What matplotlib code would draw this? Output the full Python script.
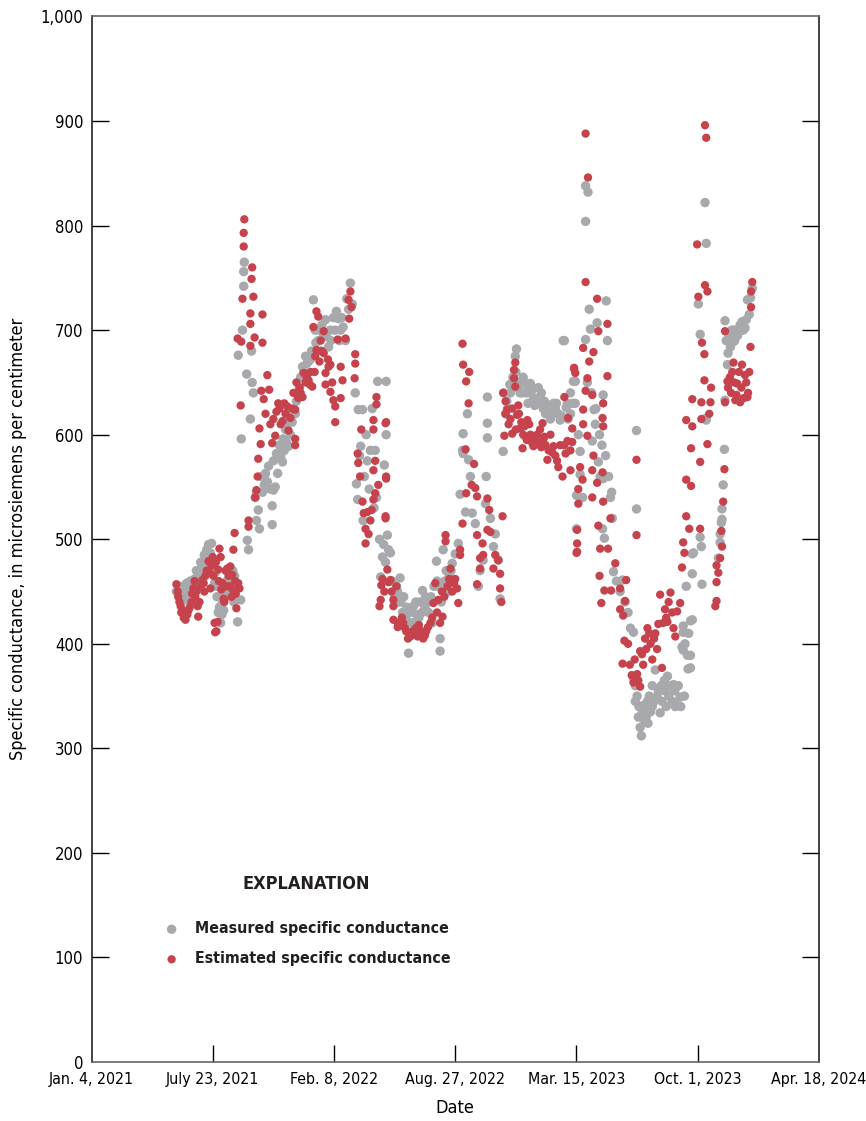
import matplotlib
matplotlib.use("Agg")
import matplotlib.pyplot as plt
from matplotlib.ticker import FuncFormatter
import pandas as pd

plt.rcParams['font.family'] = ['DejaVu Sans']
plt.rcParams['font.stretch'] = 'condensed'

START = "2021-01-04"

# (days since Jan. 4, 2021, specific conductance)
measured = [
    (140, 450), (143, 455), (147, 440), (150, 445), (153, 452), (157, 458), (160, 448), (163, 460),
    (167, 455), (170, 462), (173, 470), (176, 465), (180, 478), (183, 472), (186, 485), (190, 490),
    (193, 495), (196, 487), (198, 496), (201, 480), (204, 468), (206, 455), (209, 430), (213, 420),
    (216, 440), (219, 450), (223, 460), (226, 470), (229, 448), (232, 455), (236, 465), (239, 442),
    (241, 421), (242, 676), (246, 442), (247, 596), (249, 700), (251, 742), (251, 756), (252, 765),
    (256, 658), (257, 499), (259, 490), (262, 615), (264, 680), (265, 650), (267, 640),
    (270, 540), (272, 518), (275, 528), (277, 510), (282, 545), (287, 563), (290, 555), (295, 548),
    (298, 532), (298, 514), (300, 547), (303, 550), (307, 563), (312, 579), (315, 574), (318, 585),
    (322, 592), (325, 589), (328, 600), (331, 612), (336, 620), (340, 640), (345, 655), (348, 665),
    (353, 675), (358, 670), (361, 672), (366, 729), (369, 700), (374, 690), (378, 680), (383, 695),
    (387, 694), (391, 684), (394, 700), (399, 712), (404, 718), (407, 711), (411, 700), (415, 703),
    (419, 690), (424, 720), (427, 745), (430, 725), (435, 640), (437, 553), (439, 538), (440, 624),
    (444, 589), (447, 624), (448, 518), (453, 600), (460, 585), (463, 625), (468, 585), (472, 651),
    (477, 464), (480, 483), (483, 571), (486, 651), (486, 600), (488, 504), (490, 490), (493, 487),
    (496, 460), (500, 445), (503, 455), (506, 440), (509, 463), (513, 430), (518, 425), (523, 391),
    (526, 420), (531, 436), (536, 428), (542, 440), (546, 451), (551, 445), (556, 430), (562, 420),
    (569, 479), (572, 455), (575, 405), (575, 393), (580, 490), (585, 470), (590, 465), (595, 477),
    (600, 486), (605, 496), (608, 543), (612, 585), (613, 601), (613, 582), (617, 526), (620, 620),
    (622, 576), (625, 560), (628, 525), (633, 515), (638, 455), (641, 470), (646, 480), (650, 534),
    (651, 560), (653, 636), (653, 611), (653, 597), (658, 520), (663, 493), (666, 505), (671, 480),
    (674, 443), (679, 584), (683, 620), (686, 625), (691, 640), (696, 645), (699, 675), (701, 682),
    (704, 650), (707, 640), (712, 655), (717, 640), (721, 645), (724, 649), (729, 635), (734, 630),
    (740, 636), (745, 625), (749, 620), (752, 624), (757, 615), (762, 630), (767, 630), (773, 614),
    (778, 690), (780, 690), (783, 626), (786, 615), (790, 620), (795, 651), (798, 651), (798, 630),
    (800, 510), (800, 542), (803, 600), (806, 584), (806, 562), (810, 540), (815, 838), (815, 804),
    (815, 691), (819, 832), (821, 720), (823, 701), (826, 594), (829, 624), (831, 610), (834, 707),
    (836, 574), (839, 560), (843, 510), (844, 638), (846, 501), (844, 558), (849, 728), (851, 690),
    (856, 540), (859, 520), (861, 469), (866, 460), (872, 450), (876, 461), (880, 440), (885, 430),
    (889, 415), (894, 411), (894, 367), (897, 345), (899, 604), (899, 529), (902, 330), (905, 320),
    (907, 312), (910, 341), (913, 325), (918, 324), (922, 335), (925, 340), (930, 375), (933, 350),
    (938, 334), (941, 345), (946, 355), (950, 369), (955, 360), (960, 361), (963, 340), (966, 341),
    (971, 349), (974, 397), (976, 417), (976, 411), (976, 394), (978, 350), (981, 455), (983, 389),
    (984, 376), (988, 389), (988, 377), (988, 422), (991, 423), (991, 467), (991, 486), (993, 487),
    (1004, 502), (1004, 696), (1006, 493), (1007, 457), (1001, 725), (1012, 822), (1014, 783),
    (1014, 614), (1014, 616), (1034, 482), (1037, 497), (1037, 505), (1039, 516), (1040, 529),
    (1040, 519), (1042, 552), (1044, 586), (1045, 633), (1045, 709), (1049, 667), (1050, 678),
    (1054, 684), (1059, 689), (1059, 700), (1063, 700), (1070, 705), (1073, 708), (1078, 702),
    (1082, 729), (1087, 731), (1090, 740),
    # denser parts of the measured band
    (145, 448), (150, 455), (155, 442), (160, 458), (165, 450), (170, 455), (175, 460), (178, 470),
    (182, 462), (185, 475), (188, 480), (192, 470), (195, 478), (200, 470), (203, 458), (207, 445),
    (211, 435), (215, 428), (218, 432), (222, 445), (225, 452), (228, 462), (233, 470), (235, 440),
    (238, 455), (272, 545), (280, 560), (285, 552), (292, 570), (300, 575), (305, 582), (310, 590),
    (316, 596), (320, 605), (326, 612), (333, 622), (338, 632), (343, 645), (350, 660), (355, 668),
    (363, 680), (370, 688), (376, 700), (380, 705), (386, 710), (395, 690), (402, 700), (409, 690),
    (413, 712), (421, 730), (442, 580), (450, 560), (455, 575), (458, 548), (466, 530), (470, 540),
    (475, 500), (482, 495), (485, 478), (505, 450), (510, 440), (515, 445), (520, 435), (525, 430),
    (530, 420), (535, 440), (540, 425), (545, 430), (550, 435), (555, 440), (560, 445), (565, 455),
    (570, 460), (577, 440), (583, 460), (588, 450), (593, 470), (680, 640), (685, 632), (690, 648),
    (695, 655), (700, 660), (705, 645), (710, 640), (715, 650), (720, 630), (726, 642), (731, 628),
    (737, 645), (742, 640), (747, 632), (755, 628), (760, 620), (765, 625), (770, 620), (775, 618),
    (785, 630), (790, 640), (794, 630), (818, 650), (825, 640), (832, 625), (838, 600), (842, 590),
    (848, 580), (853, 560), (858, 545), (897, 360), (900, 350), (903, 340), (906, 330), (909, 335),
    (912, 340), (915, 330), (917, 345), (920, 350), (925, 360), (928, 345), (935, 355), (940, 360),
    (945, 365), (948, 340), (952, 350), (958, 345), (962, 355), (968, 360), (972, 340), (979, 400),
    (985, 410), (1047, 690), (1052, 695), (1056, 700), (1061, 690), (1066, 695), (1068, 700),
    (1075, 700), (1080, 710), (1085, 715),
]

estimated = [
    (140, 457), (142, 450), (143, 445), (145, 440), (147, 436), (148, 430), (152, 425), (155, 423),
    (158, 428), (162, 435), (165, 440), (168, 453), (171, 445), (175, 436), (176, 426), (180, 455),
    (183, 461), (186, 450), (190, 470), (193, 479), (196, 453), (200, 483), (201, 465), (203, 420),
    (204, 411), (206, 412), (208, 421), (209, 471), (211, 491), (213, 483), (216, 458), (218, 443),
    (221, 470), (224, 472), (228, 455), (229, 474), (231, 445), (232, 466), (234, 490), (236, 506),
    (237, 460), (239, 434), (241, 692), (242, 458), (244, 453), (246, 628), (247, 689), (249, 730),
    (251, 780), (251, 793), (252, 806), (259, 518), (259, 512), (262, 706), (262, 716), (262, 685),
    (264, 749), (265, 760), (267, 732), (269, 693), (270, 540), (272, 547), (274, 560), (275, 577),
    (277, 606), (279, 591), (280, 642), (282, 688), (282, 715), (284, 634), (290, 657), (293, 643),
    (298, 592), (303, 599), (308, 630), (312, 610), (315, 613), (320, 620), (323, 627), (325, 604),
    (328, 616), (331, 625), (336, 624), (336, 596), (336, 590), (341, 635), (345, 640), (348, 636),
    (350, 659), (353, 650), (358, 652), (361, 660), (364, 646), (366, 703), (369, 675), (371, 718),
    (371, 681), (374, 713), (378, 690), (383, 699), (383, 678), (386, 659), (386, 648), (391, 665),
    (394, 667), (394, 641), (399, 633), (402, 627), (402, 612), (406, 691), (411, 665), (411, 635),
    (414, 652), (419, 692), (424, 729), (425, 711), (427, 737), (429, 722), (435, 677), (435, 668),
    (434, 654), (439, 582), (440, 573), (445, 605), (447, 536), (452, 510), (452, 496), (455, 526),
    (460, 518), (465, 614), (465, 605), (465, 566), (465, 538), (468, 575), (468, 544), (470, 636),
    (470, 629), (473, 552), (478, 456), (477, 442), (475, 436), (485, 520), (485, 611), (486, 612),
    (486, 560), (486, 558), (485, 522), (488, 471), (490, 459), (493, 461), (498, 442), (498, 423),
    (503, 455), (505, 416), (498, 436), (505, 420), (514, 420), (519, 412), (526, 407), (531, 410),
    (538, 407), (542, 409), (547, 405), (552, 412), (559, 420), (564, 439), (567, 458), (570, 430),
    (575, 420), (579, 426), (584, 504), (584, 498), (587, 455), (592, 472), (595, 450), (600, 462),
    (603, 453), (605, 439), (608, 485), (608, 490), (612, 515), (612, 687), (613, 667), (617, 586),
    (618, 651), (618, 544), (622, 630), (623, 660), (627, 552), (631, 572), (633, 549), (636, 541),
    (636, 457), (636, 504), (641, 482), (641, 472), (645, 496), (646, 485), (653, 539), (653, 509),
    (656, 528), (658, 507), (663, 472), (666, 485), (671, 480), (674, 467), (674, 453), (676, 440),
    (678, 522), (679, 640), (681, 599), (683, 632), (686, 624), (694, 601), (697, 662), (697, 654),
    (699, 669), (699, 646), (702, 619), (707, 606), (711, 587), (716, 598), (719, 614), (729, 589),
    (744, 611), (745, 595), (752, 576), (762, 589), (770, 569), (777, 560), (780, 636), (782, 582),
    (785, 594), (786, 616), (790, 566), (793, 606), (793, 593), (796, 664), (796, 663), (798, 659),
    (683, 620), (688, 610), (691, 615), (694, 625), (704, 628), (709, 612), (714, 608), (724, 600),
    (732, 596), (737, 592), (740, 605), (749, 590), (754, 585), (757, 600), (765, 580), (773, 590),
    (801, 509), (801, 496), (801, 488), (800, 487), (803, 548), (803, 534), (806, 569), (810, 557),
    (811, 683), (811, 624), (811, 610), (815, 888), (815, 746), (815, 642), (818, 654), (818, 599),
    (819, 846), (821, 670), (826, 638), (826, 566), (826, 540), (828, 679), (828, 580), (834, 730),
    (834, 554), (836, 699), (836, 513), (838, 465), (839, 491), (841, 439), (843, 616), (843, 564),
    (844, 630), (844, 536), (844, 608), (846, 451), (851, 706), (851, 656), (852, 491), (856, 520),
    (857, 451), (864, 477), (872, 453), (872, 433), (876, 381), (877, 427), (879, 403), (880, 441),
    (882, 461), (894, 363), (899, 576), (899, 504), (900, 371), (905, 359), (905, 393), (908, 390),
    (913, 405), (917, 415), (922, 400), (925, 385), (930, 410), (935, 419), (938, 447), (941, 377),
    (946, 433), (950, 421), (955, 449), (963, 407), (966, 431), (971, 439), (974, 473), (976, 497),
    (978, 487), (981, 614), (981, 557), (981, 522), (986, 510), (989, 587), (989, 551), (991, 608),
    (991, 634), (1001, 732), (999, 782), (1004, 574), (1004, 510), (1006, 615), (1006, 631),
    (1007, 688), (1011, 677), (1011, 652), (1012, 896), (1014, 884), (1012, 743), (1016, 737),
    (1016, 591), (1019, 620), (1021, 631), (1022, 645), (1029, 436), (1031, 441), (1031, 459),
    (1031, 475), (1034, 468), (1037, 482), (1039, 508), (1040, 493), (1042, 536), (1044, 567),
    (1045, 699), (1045, 631), (1049, 651), (1057, 660), (1059, 669), (1062, 633), (1065, 649),
    (1070, 631), (1073, 667), (1078, 657), (1082, 636), (1083, 640), (1087, 684), (1088, 722),
    (1088, 737), (1090, 746),
    # denser parts of the estimated band
    (150, 432), (156, 428), (160, 432), (166, 448), (170, 460), (173, 450), (178, 440), (185, 458),
    (188, 465), (195, 468), (198, 475), (205, 478), (210, 460), (214, 452), (219, 440), (223, 455),
    (226, 465), (233, 452), (238, 448), (287, 620), (295, 610), (300, 615), (305, 622), (310, 625),
    (318, 630), (333, 640), (338, 650), (343, 645), (355, 655), (360, 648), (368, 660), (376, 670),
    (380, 680), (390, 672), (397, 650), (443, 560), (449, 525), (457, 505), (462, 528), (480, 462),
    (483, 450), (495, 450), (509, 418), (512, 425), (517, 415), (522, 405), (529, 412), (535, 415),
    (540, 418), (545, 412), (550, 408), (555, 416), (562, 425), (572, 442), (578, 450), (582, 445),
    (590, 462), (598, 458), (700, 605), (705, 620), (712, 600), (718, 595), (722, 610), (727, 592),
    (735, 600), (742, 588), (747, 598), (760, 583), (768, 575), (780, 590), (790, 585), (885, 400),
    (888, 380), (891, 370), (896, 385), (902, 365), (910, 380), (915, 395), (920, 410), (928, 405),
    (933, 395), (943, 420), (948, 425), (952, 440), (958, 430), (960, 415), (1050, 645), (1053, 655),
    (1055, 640), (1060, 650), (1064, 638), (1068, 660), (1072, 645), (1076, 635), (1080, 650),
    (1085, 660),
]

tick_dates = ["2021-01-04", "2021-07-23", "2022-02-08", "2022-08-27",
              "2023-03-15", "2023-10-01", "2024-04-18"]
tick_labels = ["Jan. 4, 2021", "July 23, 2021", "Feb. 8, 2022", "Aug. 27, 2022",
               "Mar. 15, 2023", "Oct. 1, 2023", "Apr. 18, 2024"]


def to_dates(days):
    return pd.Timestamp(START) + pd.to_timedelta(list(days), unit="D")


m_days, m_vals = zip(*measured)
e_days, e_vals = zip(*estimated)

fig = plt.figure(figsize=(8.66, 11.21), dpi=100)
ax = fig.add_axes([0.1057, 0.0526, 0.8400, 0.9327])

ax.scatter(to_dates(m_days), m_vals, s=46, color="#A7A9AC", edgecolors="none",
           label="Measured specific conductance", zorder=2)
ax.scatter(to_dates(e_days), e_vals, s=36, color="#C6424C", edgecolors="none",
           label="Estimated specific conductance", zorder=3)

ticks = pd.to_datetime(tick_dates)
ax.set_xlim(ticks[0], ticks[-1])
ax.set_xticks(ticks)
ax.set_xticklabels(tick_labels, fontsize=11.4)
ax.set_ylim(0, 1000)
ax.set_yticks(range(0, 1001, 100))
ax.yaxis.set_major_formatter(FuncFormatter(lambda v, p: f"{int(v):,}"))
ax.tick_params(axis="y", labelsize=12, direction="in", length=12, width=1,
               left=True, right=True, pad=6)
ax.tick_params(axis="x", direction="in", length=12, width=1, pad=7)

# tick marks on the frame corners would just double the spines
ymaj = ax.yaxis.get_major_ticks()
for t in (ymaj[0], ymaj[-1]):
    t.tick1line.set_visible(False)
    t.tick2line.set_visible(False)
xmaj = ax.xaxis.get_major_ticks()
for t in (xmaj[0], xmaj[-1]):
    t.tick1line.set_visible(False)

for side in ["left", "right"]:
    ax.spines[side].set_color("#222222")
for side in ["top", "bottom"]:
    ax.spines[side].set_color("#666666")
for s in ax.spines.values():
    s.set_linewidth(1.2)

ax.set_xlabel("Date", fontsize=13, labelpad=9)
ax.set_ylabel("Specific conductance, in microsiemens per centimeter", fontsize=13, labelpad=10)

ax.text(0.2948, 0.1703, "EXPLANATION", transform=ax.transAxes, ha="center", va="center",
        fontsize=13, fontweight="bold", color="#231F20")
leg = ax.legend(loc="upper left", bbox_to_anchor=(0.0992, 0.1345), frameon=False,
                handlelength=1.0, handletextpad=1.0, labelspacing=0.95,
                borderpad=0, borderaxespad=0, prop={"weight": "bold", "size": 11.4})
for t in leg.get_texts():
    t.set_color("#231F20")

fig.savefig("out.png", dpi=100)
